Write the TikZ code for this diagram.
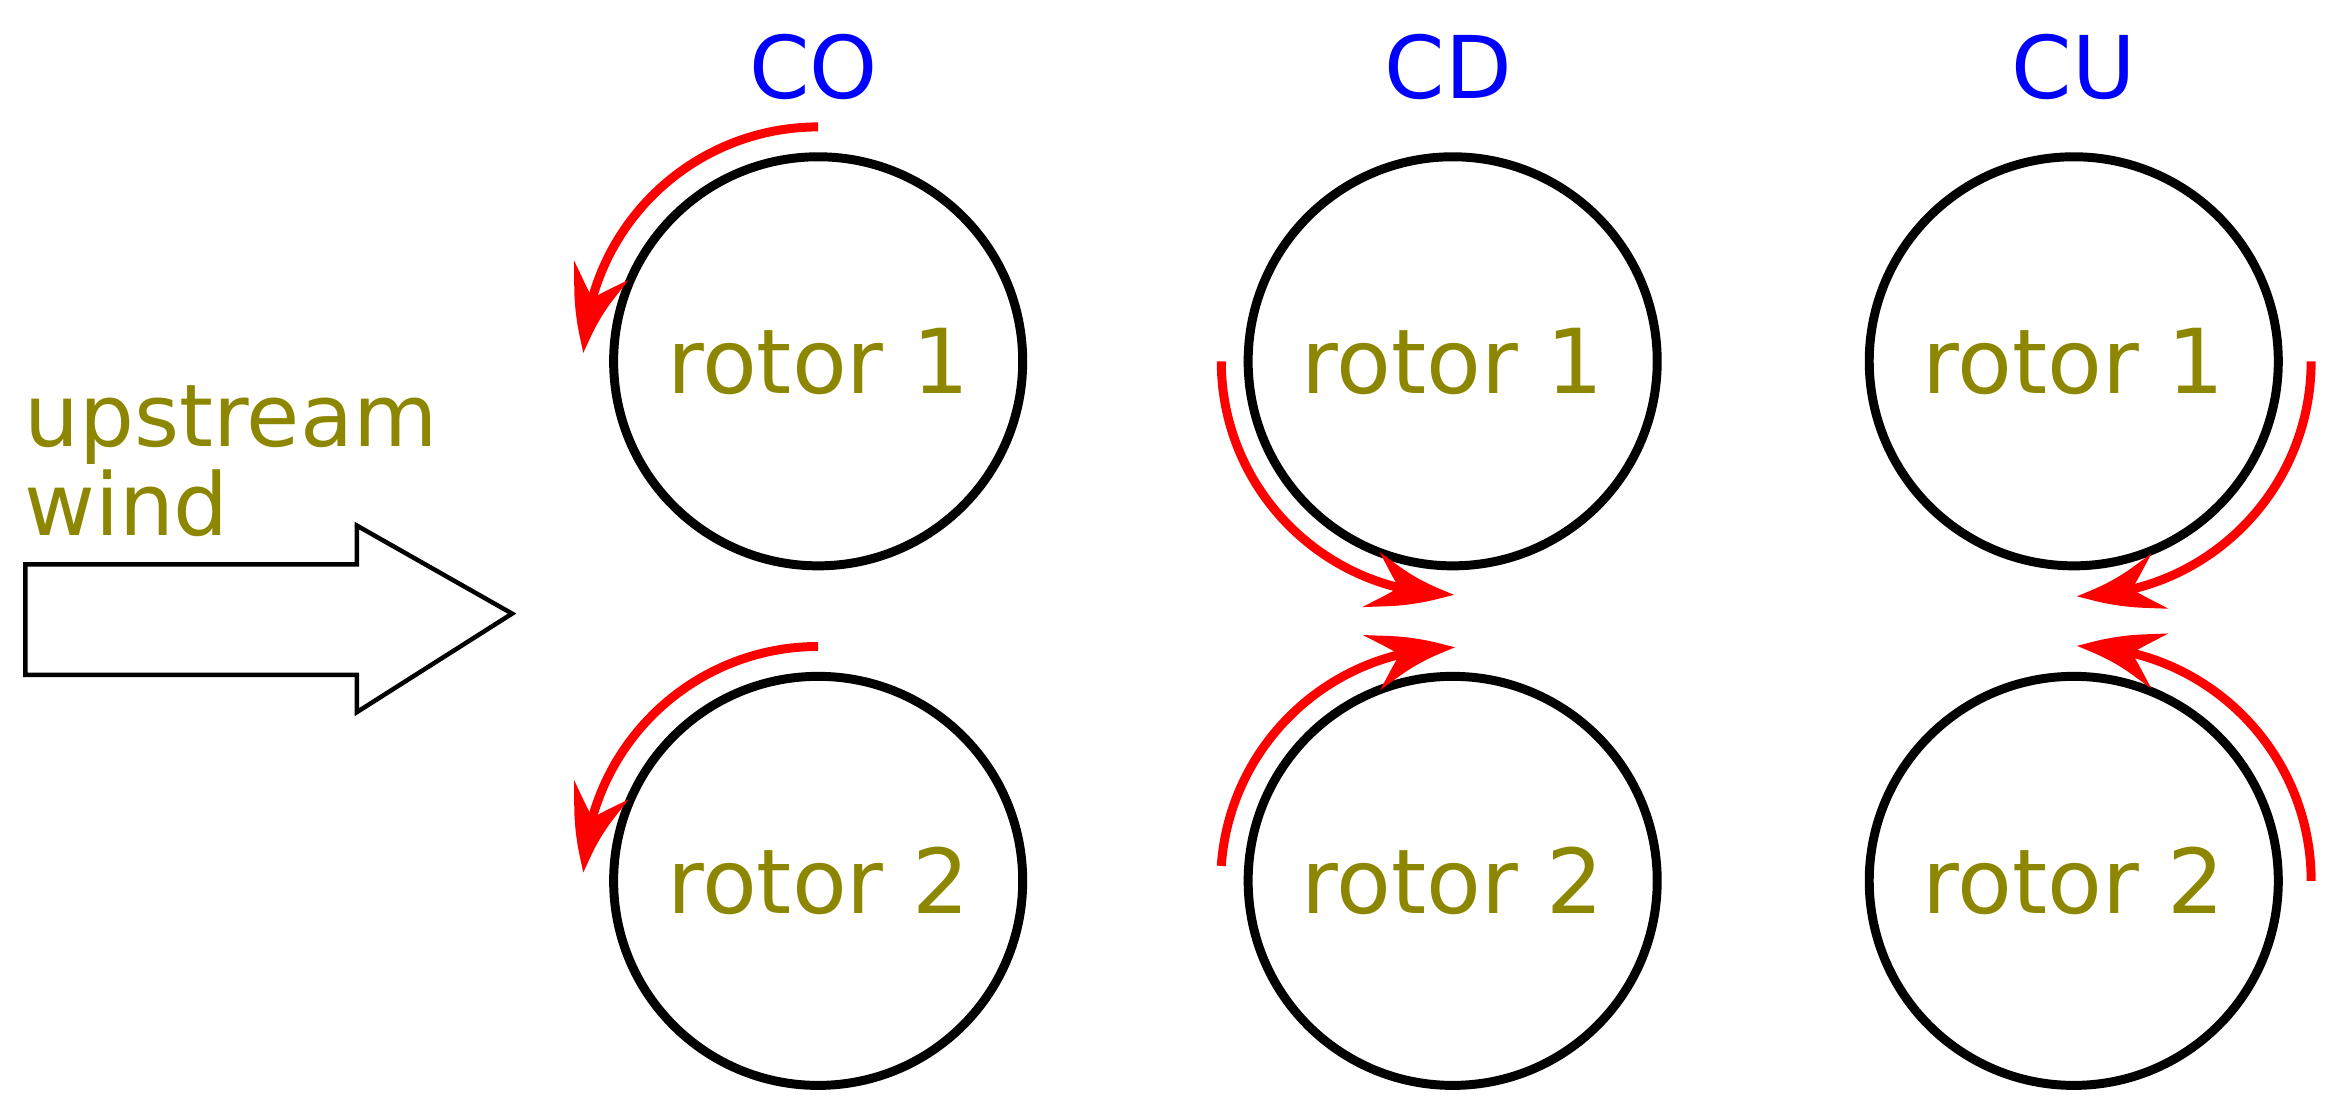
\documentclass[tikz,border=0pt]{standalone}
\usepackage{fontspec}
\setmainfont{DejaVu Sans}
\usetikzlibrary{arrows.meta,bending,calc}
\begin{document}
\begin{tikzpicture}[x=1pt,y=-1pt,
  rotor/.style={circle,draw=black,line width=6pt,minimum size=274pt,inner sep=0pt,text=olive,font=\fontsize{60}{66}\selectfont},
  lbl/.style={text=blue,font=\fontsize{58}{66}\selectfont},
  rot/.style={red,line width=6pt,-{Stealth[length=58pt,width=38pt,inset=20pt,bend]}}]
\useasboundingbox (0,0) rectangle (1568,740);
\foreach \n/\x in {co/548,cd/973,cu/1389}{
  \node[rotor] (\n1) at (\x,242) {rotor 1};
  \node[rotor] (\n2) at (\x,590) {rotor 2};
}
\node[lbl] (lco) at (545,45) {CO};
\node[lbl] (lcd) at (970,45) {CD};
\node[lbl] (lcu) at (1389,45) {CU};
\node[text=olive,font=\fontsize{58}{60}\selectfont,align=left,anchor=north west,inner sep=0pt] (wind) at (16,258) {upstream\\wind};
\draw[line width=3pt] (17,378) -- (239,378) -- (239,352) -- (343,411) -- (239,477) -- (239,452) -- (17,452) -- cycle;
\draw[rot] ($(co1)+(0,-157)$) arc[start angle=-90,end angle=-178,radius=157];
\draw[rot] ($(co2)+(0,-157)$) arc[start angle=-90,end angle=-178,radius=157];
\draw[rot] ($(cd1)+(-155,0)$) arc[start angle=180,end angle=90,radius=156];
\draw[rot] ($(cd2)+(-155,-10)$) arc[start angle=184,end angle=270,radius=157];
\draw[rot] ($(cu1)+(159,0)$) arc[start angle=0,end angle=90,radius=157];
\draw[rot] ($(cu2)+(159,0)$) arc[start angle=0,end angle=-90,radius=157];
\end{tikzpicture}
\end{document}
